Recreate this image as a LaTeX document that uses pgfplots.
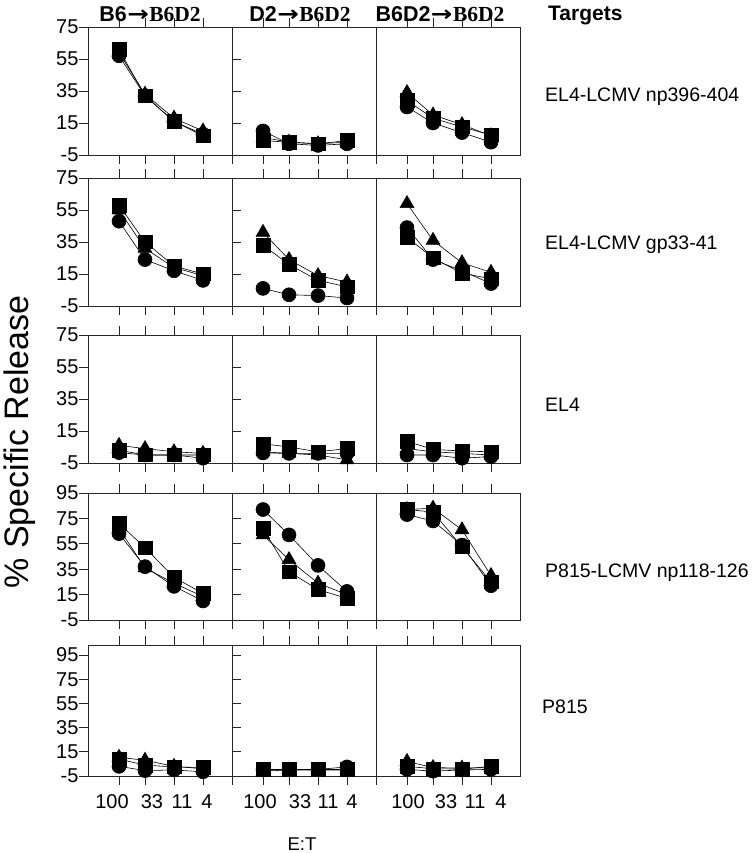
\documentclass[border=0pt]{standalone}
\usepackage{fontspec}
\setmainfont{Liberation Sans}
\newfontfamily\serifbf{Liberation Serif}
\newfontfamily\dejavu{DejaVu Sans}
\usepackage{pgfplots}
\pgfplotsset{compat=1.18}
\pgfplotsset{
  base/.style={scale only axis, width=144pt, xmin=0, xmax=144,
    xtick={31,57,86,115}, xticklabels={}, tick align=outside,
    major tick length=9pt,
    axis line style={line width=0.7pt, black!85},
    every tick/.style={line width=0.7pt, black!85},
    clip=false, anchor=north west,
    tick label style={font=\fontsize{20}{22}\selectfont},
    yticklabel style={xshift=3pt},
    /pgf/number format/assume math mode=true},
  r13/.style={height=128pt, ymin=-5, ymax=75, ytick={-5,15,35,55,75}},
  r4/.style={height=127pt, ymin=-5, ymax=95, ytick={-5,15,35,55,75,95}},
  r5/.style={height=131pt, ymin=-5, ymax=103.3, ytick={-5,15,35,55,75,95},
    extra x tick labels={100,33,11,4},
    extra x tick style={major tick length=0pt, tick style={draw=none},
      xticklabel style={yshift=-15pt}}},
  cN/.style={ytick=\empty,
    after end axis/.code={\draw[line width=0.7pt, black!85] (rel axis cs:0,0) -- ++(0pt,-9pt);}},
  circ/.style={black, line width=0.6pt, mark=*, mark size=7pt, mark options={solid, fill=black}},
  tri/.style={black, line width=0.6pt, mark=triangle*, mark size=8pt, mark options={solid, fill=black}},
  sq/.style={black, line width=0.6pt, mark=square*, mark size=6.8pt, mark options={solid, fill=black}},
}
\newcommand{\arr}{{\dejavu\bfseries\kern0.5pt\scalebox{1.2}[1]{→}\kern0.5pt}}
\begin{document}
\begin{tikzpicture}
\useasboundingbox (0,0) rectangle (754pt,-853pt);
% ---------------- Row 1: EL4-LCMV np396-404
\begin{axis}[base, r13, at={(88pt,-27pt)}]
\addplot[circ] coordinates {(31,57) (57,32) (86,16) (115,8)};
\addplot[tri] coordinates {(31,59) (57,33) (86,18) (115,10)};
\addplot[sq] coordinates {(31,61) (57,32) (86,16) (115,7)};
\end{axis}
\begin{axis}[base, r13, cN, at={(232pt,-27pt)}]
\addplot[circ] coordinates {(31,10) (57,2) (86,1) (115,2)};
\addplot[tri] coordinates {(31,6) (57,3) (86,2) (115,3)};
\addplot[sq] coordinates {(31,4) (57,3) (86,2) (115,4)};
\end{axis}
\begin{axis}[base, r13, cN, at={(376pt,-27pt)}]
\addplot[circ] coordinates {(31,25) (57,15) (86,9) (115,3)};
\addplot[tri] coordinates {(31,34) (57,20) (86,14) (115,7)};
\addplot[sq] coordinates {(31,29) (57,18) (86,12.5) (115,7.5)};
\end{axis}
% ---------------- Row 2: EL4-LCMV gp33-41
\begin{axis}[base, r13, at={(88pt,-178pt)}]
\addplot[circ] coordinates {(31,48) (57,24) (86,17) (115,11)};
\addplot[tri] coordinates {(31,55) (57,31) (86,19) (115,14)};
\addplot[sq] coordinates {(31,58) (57,35) (86,20) (115,15)};
\end{axis}
\begin{axis}[base, r13, cN, at={(232pt,-178pt)}]
\addplot[circ] coordinates {(31,6) (57,2) (86,1.5) (115,0)};
\addplot[tri] coordinates {(31,41) (57,24) (86,14) (115,10)};
\addplot[sq] coordinates {(31,33) (57,21) (86,11) (115,7)};
\end{axis}
\begin{axis}[base, r13, cN, at={(376pt,-178pt)}]
\addplot[circ] coordinates {(31,44) (57,24) (86,17) (115,9)};
\addplot[tri] coordinates {(31,59) (57,36) (86,22) (115,16)};
\addplot[sq] coordinates {(31,38) (57,25) (86,15.5) (115,12)};
\end{axis}
% ---------------- Row 3: EL4
\begin{axis}[base, r13, at={(88pt,-335pt)}]
\addplot[circ] coordinates {(31,1.5) (57,0) (86,0) (115,-2)};
\addplot[tri] coordinates {(31,6) (57,4) (86,2) (115,1)};
\addplot[sq] coordinates {(31,3) (57,0) (86,0) (115,0)};
\end{axis}
\begin{axis}[base, r13, cN, at={(232pt,-335pt)}]
\addplot[circ] coordinates {(31,1.3) (57,1) (86,1) (115,1)};
\addplot[tri] coordinates {(31,2) (57,1) (86,0) (115,-3)};
\addplot[sq] coordinates {(31,7) (57,5) (86,2) (115,4)};
\end{axis}
\begin{axis}[base, r13, cN, at={(376pt,-335pt)}]
\addplot[circ] coordinates {(31,0) (57,0) (86,-2) (115,-1)};
\addplot[tri] coordinates {(31,4) (57,2) (86,1) (115,0)};
\addplot[sq] coordinates {(31,8.5) (57,3.5) (86,2.5) (115,2)};
\end{axis}
% ---------------- Row 4: P815-LCMV np118-126
\begin{axis}[base, r4, at={(88pt,-493pt)}]
\addplot[circ] coordinates {(31,63) (57,37) (86,21.5) (115,10)};
\addplot[tri] coordinates {(31,67) (57,36) (86,24) (115,13.5)};
\addplot[sq] coordinates {(31,71) (57,52) (86,28.5) (115,16)};
\end{axis}
\begin{axis}[base, r4, cN, at={(232pt,-493pt)}]
\addplot[circ] coordinates {(31,82) (57,62) (86,38) (115,17.5)};
\addplot[tri] coordinates {(31,62) (57,42.5) (86,24) (115,15)};
\addplot[sq] coordinates {(31,67) (57,33) (86,19) (115,12)};
\end{axis}
\begin{axis}[base, r4, cN, at={(376pt,-493pt)}]
\addplot[circ] coordinates {(31,78) (57,73) (86,54) (115,22)};
\addplot[tri] coordinates {(31,82) (57,83) (86,66) (115,30)};
\addplot[sq] coordinates {(31,82) (57,80) (86,52.5) (115,25)};
\end{axis}
% ---------------- Row 5: P815
\begin{axis}[base, r5, extra x ticks={24,64,94,119}, at={(88pt,-645pt)}]
\addplot[circ] coordinates {(31,3) (57,-0.5) (86,0) (115,-1.5)};
\addplot[tri] coordinates {(31,10.5) (57,8) (86,3) (115,1)};
\addplot[sq] coordinates {(31,9) (57,4) (86,2.5) (115,2)};
\end{axis}
\begin{axis}[base, r5, cN, extra x ticks={28,68,96,120}, at={(232pt,-645pt)}]
\addplot[circ] coordinates {(31,0) (57,0.5) (86,0.5) (115,2.5)};
\addplot[tri] coordinates {(31,-1) (57,0) (86,0) (115,0)};
\addplot[sq] coordinates {(31,0.7) (57,0.7) (86,0.7) (115,0.7)};
\end{axis}
\begin{axis}[base, r5, cN, extra x ticks={32,70,99,125}, at={(376pt,-645pt)}]
\addplot[circ] coordinates {(31,0.5) (57,-1) (86,0) (115,0.5)};
\addplot[tri] coordinates {(31,7) (57,2) (86,1.5) (115,2)};
\addplot[sq] coordinates {(31,3) (57,1) (86,0.7) (115,3)};
\end{axis}
% ---------------- Texts
\node[anchor=base, font=\fontsize{21.5}{23}\selectfont\bfseries] at (150pt,-22pt) {B6\arr{\serifbf\bfseries B6D2}};
\node[anchor=base, font=\fontsize{21.5}{23}\selectfont\bfseries] at (300pt,-22pt) {D2\arr{\serifbf\bfseries B6D2}};
\node[anchor=base, font=\fontsize{21.5}{23}\selectfont\bfseries] at (440pt,-22pt) {B6D2\arr{\serifbf\bfseries B6D2}};
\node[anchor=base west, inner sep=0pt, font=\fontsize{21}{23}\selectfont\bfseries] at (548pt,-21pt) {Targets};
\begin{scope}[every node/.style={anchor=west, inner sep=0pt, font=\fontsize{19.5}{21}\selectfont}]
\node at (545pt,-97pt) {EL4-LCMV np396-404};
\node at (545pt,-245pt) {EL4-LCMV gp33-41};
\node at (545pt,-405pt) {EL4};
\node at (545pt,-573pt) {P815-LCMV np118-126};
\node at (542pt,-707pt) {P815};
\end{scope}
\node[rotate=90, font=\fontsize{34}{36}\selectfont] at (20pt,-442pt) {\% Specific Release};
\node[anchor=base, inner sep=0pt, font=\fontsize{18.5}{20}\selectfont] at (302pt,-850pt) {E:T};
\end{tikzpicture}
\end{document}
